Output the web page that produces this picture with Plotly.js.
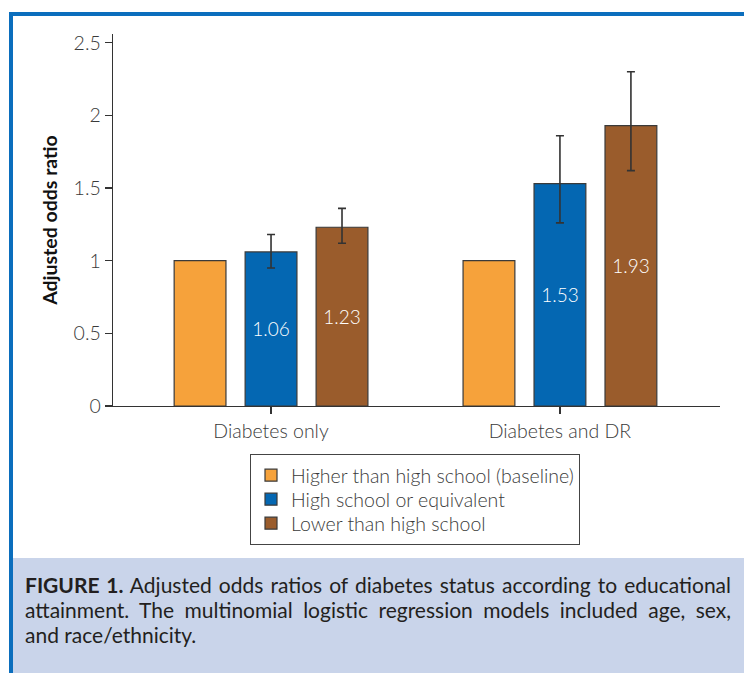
<!DOCTYPE html>
<html>
<head>
<meta charset="utf-8">
<script src="https://cdn.plot.ly/plotly-3.0.1.min.js"></script>
<style>html,body{margin:0;padding:0;background:#fff;}#chart{width:744px;height:673px;}</style>
</head>
<body>
<div id="chart"></div>
<script>
// ---- data ----
const categories = ["Diabetes only", "Diabetes and DR"];
const seriesNames = ["Higher than high school (baseline)", "High school or equivalent", "Lower than high school"];
const higherValues = [1.00, 1.00];
const highSchoolValues = [1.06, 1.53];
const highSchoolUpper = [1.18, 1.86];
const highSchoolLower = [0.95, 1.26];
const lowerValues = [1.23, 1.93];
const lowerUpper = [1.36, 2.30];
const lowerLower = [1.12, 1.62];
const yTickVals = [0, 0.5, 1, 1.5, 2, 2.5];
const yTickText = ["0", "0.5", "1", "1.5", "2", "2.5"];
const yAxisTitle = "Adjusted odds ratio";
const captionLines = [
  "<b>FIGURE 1.</b> Adjusted odds ratios of diabetes status according to educational",
  "attainment. The multinomial logistic regression models included age, sex,",
  "and race/ethnicity."
];

// ---- layout helpers (pixel -> paper) ----
const W = 744, H = 673;
const M = {l: 113, r: 24, t: 34, b: 267};
const PW = W - M.l - M.r, PH = H - M.t - M.b;
const px = p => (p - M.l) / PW;
const py = p => (H - M.b - p) / PH;

const FONT = "Lato, 'Open Sans', sans-serif";
const outline = {color: "#3a3a3a", width: 1.2};
const errStyle = {color: "#333333", thickness: 1.6, width: 4};
const labelFont = {family: FONT, size: 19, color: "#ffffff", weight: 300};
const tickFont = {family: FONT, size: 19.5, color: "#3a3a3a", weight: 300};

const traces = [
  {
    type: "bar", name: seriesNames[0], x: categories, y: higherValues,
    marker: {color: "#F6A23B", line: outline}, hoverinfo: "skip"
  },
  {
    type: "bar", name: seriesNames[1], x: categories, y: highSchoolValues,
    marker: {color: "#0467B2", line: outline},
    text: highSchoolValues.map(v => v.toFixed(2)), textposition: "inside",
    insidetextanchor: "middle", textangle: 0, textfont: labelFont,
    error_y: Object.assign({type: "data", symmetric: false,
      array: highSchoolUpper.map((u, i) => u - highSchoolValues[i]),
      arrayminus: highSchoolLower.map((l, i) => highSchoolValues[i] - l)}, errStyle),
    hoverinfo: "skip"
  },
  {
    type: "bar", name: seriesNames[2], x: categories, y: lowerValues,
    marker: {color: "#9A5C2C", line: outline},
    text: lowerValues.map(v => v.toFixed(2)), textposition: "inside",
    insidetextanchor: "middle", textangle: 0, textfont: labelFont,
    error_y: Object.assign({type: "data", symmetric: false,
      array: lowerUpper.map((u, i) => u - lowerValues[i]),
      arrayminus: lowerLower.map((l, i) => lowerValues[i] - l)}, errStyle),
    hoverinfo: "skip"
  }
];

const layout = {
  width: W, height: H,
  margin: M,
  paper_bgcolor: "#ffffff", plot_bgcolor: "#ffffff",
  font: {family: FONT, size: 19, color: "#3a3a3a"},
  barmode: "group", bargap: 0.263, bargroupgap: 0.27,
  showlegend: true,
  xaxis: {
    type: "category", range: [-0.547, 1.554], fixedrange: true,
    showline: true, linecolor: "#333", linewidth: 1.3,
    ticks: "outside", ticklen: 7, tickcolor: "#333", tickwidth: 1.3,
    tickfont: tickFont,
    showgrid: false, zeroline: false
  },
  yaxis: {
    range: [0, 2.56], fixedrange: true,
    tickvals: yTickVals, ticktext: yTickText,
    showline: true, linecolor: "#333", linewidth: 1.3,
    ticks: "outside", ticklen: 7, tickcolor: "#333", tickwidth: 1.3,
    tickfont: tickFont,
    showgrid: false, zeroline: false,
    title: {text: yAxisTitle, font: {family: FONT, size: 19.5, color: "#111", weight: 700}, standoff: 10}
  },
  legend: {
    x: px(250), y: py(454), xanchor: "left", yanchor: "top",
    bordercolor: "#444", borderwidth: 1, bgcolor: "#ffffff",
    font: {family: FONT, size: 19.5, color: "#3a3a3a", weight: 300},
    itemwidth: 30, traceorder: "normal", tracegroupgap: 0
  },
  shapes: [
    // caption background
    {type: "rect", xref: "paper", yref: "paper", layer: "below",
     x0: px(13), x1: px(744), y0: py(558), y1: py(673),
     fillcolor: "#C9D4EA", line: {width: 0}},
    // frame top
    {type: "rect", xref: "paper", yref: "paper",
     x0: px(9), x1: px(744), y0: py(12), y1: py(16),
     fillcolor: "#0B6EBD", line: {width: 0}},
    // frame left
    {type: "rect", xref: "paper", yref: "paper",
     x0: px(9), x1: px(13), y0: py(12), y1: py(673),
     fillcolor: "#0B6EBD", line: {width: 0}}
  ],
  annotations: captionLines.map((t, i) => ({
    xref: "paper", yref: "paper", x: px(23), y: py(584 + i * 25),
    xanchor: "left", yanchor: "middle", align: "left", showarrow: false,
    text: t, font: {family: FONT, size: 21, color: "#231F20"}
  }))
};

Plotly.newPlot("chart", traces, layout, {displayModeBar: false, staticPlot: true}).then(gd => {
  // justify first two caption lines to the right edge
  const target = 729 - 23;
  const texts = gd.querySelectorAll(".annotation-text");
  [0, 1].forEach(i => {
    const t = texts[i];
    if (!t) return;
    const w = t.getComputedTextLength();
    const spaces = (t.textContent.match(/ /g) || []).length;
    if (spaces > 0) {
      t.style.wordSpacing = ((target - w) / spaces) + "px";
    }
  });
  // tighten legend row spacing to match the printed figure (24px rows)
  try {
    const rows = Array.from(gd.querySelectorAll(".legend .traces"));
    const parse = el => {
      const m = /translate\(\s*([-\d.]+)[ ,]+([-\d.]+)/.exec(el.getAttribute("transform") || "");
      return m ? [parseFloat(m[1]), parseFloat(m[2])] : null;
    };
    const pos = rows.map(parse);
    if (rows.length > 1 && pos.every(p => p)) {
      const oldStep = pos[1][1] - pos[0][1];
      const step = 24;
      rows.forEach((el, i) => el.setAttribute("transform",
        "translate(" + pos[i][0] + "," + (pos[0][1] + i * step + 1) + ")"));
      const shrink = (oldStep - step) * (rows.length - 1) - 2;
      const bg = gd.querySelector(".legend rect.bg");
      if (bg) bg.setAttribute("height", parseFloat(bg.getAttribute("height")) - shrink);
    }
  } catch (e) {}
});
</script>
</body>
</html>
